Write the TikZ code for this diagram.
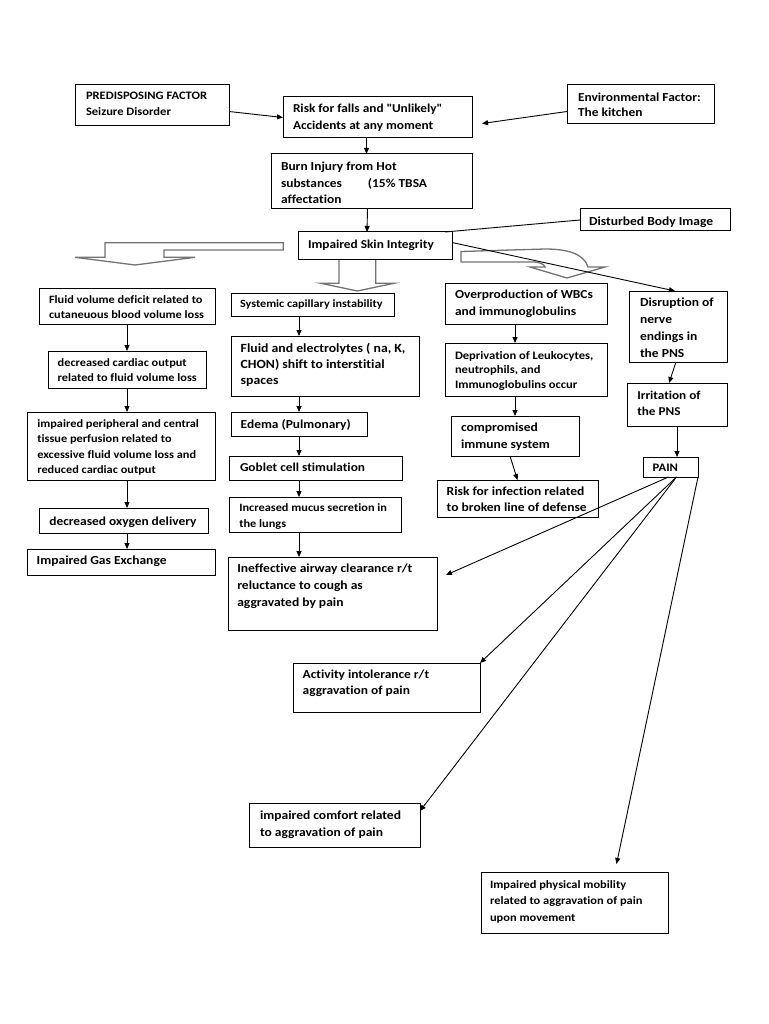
\documentclass[tikz,border=0pt]{standalone}
\usepackage{fontspec}
\setmainfont{Carlito}[FakeStretch=1.1, Ligatures=NoCommon]
\usetikzlibrary{arrows.meta,calc}
\newcommand{\fs}[2]{\fontsize{#1}{#2}\selectfont\bfseries}
\tikzset{
  box/.style={draw=black, line width=1pt, fill=white, inner sep=0pt, outer sep=0pt},
  txt/.style={inner sep=0pt, outer sep=0pt, text=black},
  arr/.style={draw=black, line width=0.9pt, -{Triangle[length=6pt,width=5pt]}},
  plain/.style={draw=black, line width=0.9pt},
  blockarrow/.style={draw=black!55, line width=1.3pt, fill=white, line join=miter}
}
% name, x1, y1, x2, y2, text x, first baseline y, text
\newcommand{\bx}[8]{%
  \pgfmathsetmacro\bw{#4-#2}\pgfmathsetmacro\bh{#5-#3}%
  \pgfmathsetmacro\lx{#6-#2}\pgfmathsetmacro\ly{#7-#3}%
  \node[box, minimum width=\bw pt, minimum height=\bh pt, anchor=north west,
    label={[txt, anchor=base west, xshift=\lx pt, yshift=-\ly pt]north west:{\parbox[t]{300pt}{#8}}}]
    (#1) at (#2,#3) {};}
\begin{document}
\begin{tikzpicture}[x=1pt,y=-1pt]
\path[use as bounding box, fill=white] (0,0) rectangle (768,1024);

% block arrows
\draw[blockarrow] (283.3,242.7) -- (105,242.7) -- (105,257.3) -- (75,257.3) -- (135,265) -- (195,257.3) -- (164,257.3) -- (164,250) -- (283.3,250) -- cycle;
\draw[blockarrow] (339,259) -- (339,283.3) -- (321,283.3) -- (357.3,291) -- (394,283.3) -- (375.7,283.3) -- (375.7,259) -- cycle;
\draw[blockarrow] (461,251.5) -- (461,262) -- (532,262) .. controls (540,262) and (544,264) .. (545,267) -- (530,267) -- (567,278) -- (605,267) -- (588,267) .. controls (584,254) and (568,249) .. (545,249) -- cycle;

% boxes
\bx{pred}{75}{85}{229}{126}{86}{100}{\fs{11.4}{16}PREDISPOSING FACTOR\\Seizure Disorder}
\bx{risk}{283}{97}{472}{138}{293}{113}{\fs{12.1}{17}Risk for falls and \textquotedbl Unlikely\textquotedbl\\Accidents at any moment}
\bx{env}{567}{85}{714}{124}{578}{102}{\fs{12.2}{15}Environmental Factor:\\The kitchen}
\bx{burn}{271}{154}{472}{209}{281}{170.5}{\fs{12.2}{16.7}Burn Injury from Hot\\substances\hspace{26pt}(15\% TBSA\\affectation}
\bx{skin}{298}{232}{452}{259}{308}{248}{\fs{12.1}{14}Impaired Skin Integrity}
\bx{disturbed}{580}{209}{730}{231}{589}{225.5}{\fs{12.3}{14}Disturbed Body Image}
\bx{fluid}{39}{288}{215}{324}{49}{303}{\fs{11.2}{15}Fluid volume deficit related to\\cutaneuous blood volume loss}
\bx{cardiac}{48}{351}{206}{388}{57.7}{366}{\fs{11.2}{15.4}decreased cardiac output\\related to fluid volume loss}
\bx{periph}{27}{412}{215}{480}{37.3}{427}{\fs{11.2}{15.6}impaired peripheral and central\\tissue perfusion related to\\excessive fluid volume loss and\\reduced cardiac output}
\bx{oxygen}{39}{508}{208}{533}{49.3}{525}{\fs{12.2}{14}decreased oxygen delivery}
\bx{gas}{27}{549}{215}{575}{36.7}{564.7}{\fs{12.3}{14}Impaired Gas Exchange}
\bx{systemic}{231}{293}{394}{316}{240}{307}{\fs{11.1}{14}Systemic capillary instability}
\bx{fluidel}{231}{336}{419}{396}{240.7}{352}{\fs{12.5}{16.3}Fluid and electrolytes ( na, K,\\CHON) shift to interstitial\\spaces}
\bx{edema}{231}{412}{367}{436}{240.7}{428.5}{\fs{12.2}{14}Edema (Pulmonary)}
\bx{goblet}{229}{456}{402}{480}{240}{471.7}{\fs{12.1}{14}Goblet cell stimulation}
\bx{mucus}{229}{497}{401}{532}{239.3}{511}{\fs{11.2}{16}Increased mucus secretion in\\the lungs}
\bx{ineff}{228}{557}{437}{630}{237.3}{572.3}{\fs{12.3}{17}Ineffective airway clearance r/t\\reluctance to cough as\\aggravated by pain}
\bx{wbc}{445}{283}{607}{324}{455}{298}{\fs{12.2}{17.7}Overproduction of WBCs\\and immunoglobulins}
\bx{depriv}{445}{343}{607}{396}{455}{359}{\fs{11.4}{14.7}Deprivation of Leukocytes,\\neutrophils, and\\Immunoglobulins occur}
\bx{immune}{451}{416}{579}{456}{461}{431.5}{\fs{12.3}{16.7}compromised\\immune system}
\bx{infect}{437}{480}{598}{517}{446.7}{495.7}{\fs{12.3}{15.6}Risk for infection related\\to broken line of defense}
\bx{disrupt}{629}{291}{727}{362}{640}{306.7}{\fs{12.3}{17}Disruption of\\nerve\\endings in\\the PNS}
\bx{irrit}{627}{383}{727}{426}{637.3}{399}{\fs{12}{16.7}Irritation of\\the PNS}
\bx{pain}{643}{457}{698}{477}{652.7}{471.5}{\fs{11.5}{14}PAIN}
\bx{activity}{293}{663}{480}{712}{302.7}{678.3}{\fs{12.2}{16.3}Activity intolerance r/t\\aggravation of pain}
\bx{comfort}{249}{803}{420}{847}{260}{819}{\fs{12.3}{17.7}impaired comfort related\\to aggravation of pain}
\bx{mobility}{481}{872}{668}{933}{490}{888.3}{\fs{11.3}{16.5}Impaired physical mobility\\related to aggravation of pain\\upon movement}

% connectors
\draw[arr] ([yshift=-6pt]pred.east) -- (risk.west);
\draw[arr] ([yshift=-7pt]env.west) -- ([xshift=10pt,yshift=-6pt]risk.east);
\draw[arr] ([xshift=-11pt]risk.south) -- ([xshift=-5pt]burn.north);
\draw[arr] ([xshift=-4pt]burn.south) -- ([xshift=-8pt]skin.north);
\draw[plain] ([xshift=-7pt]skin.north east) -- (disturbed.west);
\draw[arr] ([yshift=3pt]skin.east) -- ([xshift=-3pt]disrupt.north);

\draw[arr] (fluid.south) -- (cardiac.north);
\draw[arr] (cardiac.south) -- (cardiac.south |- periph.north);
\draw[arr] (periph.south -| fluid.south) -- (oxygen.north -| fluid.south);
\draw[arr] (oxygen.south -| fluid.south) -- (gas.north -| fluid.south);

\draw[arr] (systemic.south -| edema.north) -- (fluidel.north -| edema.north);
\draw[arr] (fluidel.south -| edema.north) -- (edema.north);
\draw[arr] (edema.south) -- (goblet.north -| edema.south);
\draw[arr] (goblet.south -| edema.south) -- (mucus.north -| edema.south);
\draw[arr] (mucus.south -| edema.south) -- (ineff.north -| edema.south);

\draw[arr] (wbc.south -| immune.north) -- (depriv.north -| immune.north);
\draw[arr] (depriv.south -| immune.north) -- (immune.north);
\draw[arr] ([xshift=-5pt]immune.south) -- (infect.north);

\draw[arr] ([xshift=-2pt]disrupt.south) -- ([xshift=-8pt]irrit.north);
\draw[arr] (irrit.south) -- (irrit.south |- pain.north);

\draw[arr] ([xshift=-2pt]pain.south) -- ([xshift=9pt,yshift=-18pt]ineff.north east);
\draw[arr] ([xshift=6pt]pain.south) -- (activity.north east);
\draw[arr] ([xshift=6pt]pain.south) -- ([yshift=-8pt]comfort.north east);
\draw[arr] (pain.south east) -- ([xshift=42pt,yshift=8pt]mobility.north);
\end{tikzpicture}
\end{document}
